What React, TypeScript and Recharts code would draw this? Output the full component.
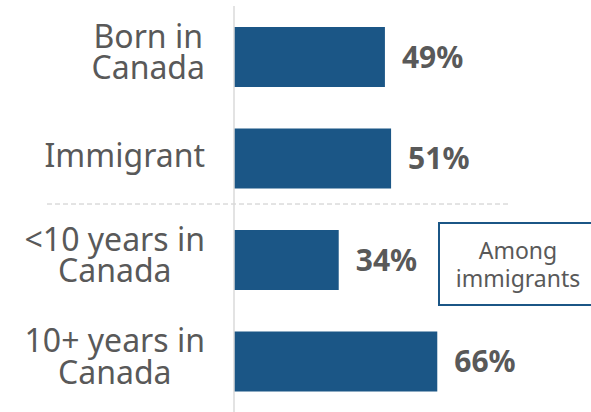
import { BarChart, Bar, XAxis, YAxis, LabelList, ReferenceLine } from "recharts"

const categories = ["Born in\nCanada", "Immigrant", "<10 years in\nCanada", "10+ years in\nCanada"]
const shares = [49, 51, 34, 66]
const noteLines = ["Among", "immigrants"]

const data = categories.map((name, i) => ({ name, value: shares[i] }))

const BLUE = "#1b5686"
const GREY = "#595959"
const FONT = "'Noto Sans', 'DejaVu Sans', sans-serif"
const TICK_SIZE = 32

let ctx: CanvasRenderingContext2D | null = null
function measure(s: string) {
  if (!ctx) ctx = document.createElement("canvas").getContext("2d")
  if (!ctx) return s.length * TICK_SIZE * 0.55
  ctx.font = `${TICK_SIZE}px ${FONT}`
  return ctx.measureText(s).width
}

// lines centred on each other, block right-aligned against the axis
function CategoryTick({ x, y, payload }: any) {
  const lines = String(payload.value).split("\n")
  const w = Math.max(...lines.map(measure))
  const cx = x - w / 2
  const shift = lines.length === 1 ? 9 : 6.5
  return (
    <text x={cx} y={y} textAnchor="middle" fill={GREY} fontSize={TICK_SIZE} fontFamily={FONT}>
      {lines.map((line, i) => (
        <tspan key={i} x={cx} y={y + (i - (lines.length - 1) / 2) * 31.5 + shift}>
          {line}
        </tspan>
      ))}
    </text>
  )
}

// divider between the two groups, runs out under the labels
function Divider({ x1, x2, y1 }: any) {
  return <line x1={x1 - 187} x2={x2 - 33} y1={y1 - 5} y2={y1 - 5} stroke="#c8c8c8" strokeDasharray="5 3" />
}

export default function App() {
  return (
    <div style={{ position: "absolute", left: 0, top: 0, width: 591, height: 412, overflow: "hidden", background: "#fff" }}>
      <BarChart width={591} height={412} data={data} layout="vertical" margin={{ top: 6, right: 49, bottom: 0, left: 0 }}>
        <XAxis type="number" domain={[0, 100]} hide />
        <YAxis
          type="category"
          dataKey="name"
          width={234}
          tick={<CategoryTick />}
          tickLine={false}
          tickSize={0}
          tickMargin={29}
          axisLine={{ stroke: "#dadada", strokeWidth: 1.5 }}
        />
        <ReferenceLine y="Immigrant" position="end" ifOverflow="visible" shape={<Divider />} />
        <Bar dataKey="value" fill={BLUE} barSize={60} isAnimationActive={false}>
          <LabelList
            dataKey="value"
            position="right"
            offset={17}
            formatter={(v: any) => `${v}%`}
            style={{ fontSize: 30, fontWeight: 700, fill: GREY, fontFamily: FONT }}
          />
        </Bar>
      </BarChart>
      <div
        style={{
          position: "absolute",
          left: 438,
          top: 222,
          width: 160,
          height: 84,
          boxSizing: "border-box",
          border: `2.5px solid ${BLUE}`,
          display: "flex",
          flexDirection: "column",
          alignItems: "center",
          justifyContent: "center",
          color: GREY,
          fontFamily: FONT,
          fontSize: 23,
          lineHeight: "28px",
        }}
      >
        {noteLines.map((l) => (
          <div key={l}>{l}</div>
        ))}
      </div>
    </div>
  )
}
